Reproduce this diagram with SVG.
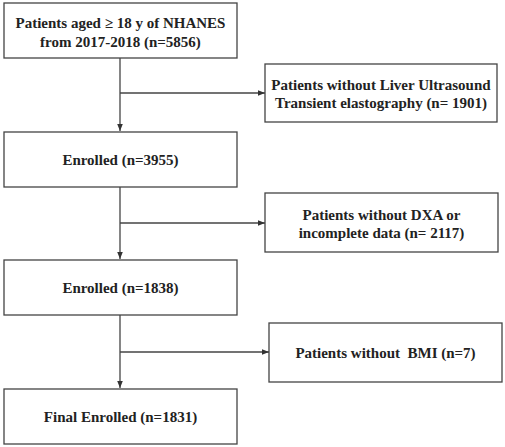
<svg xmlns="http://www.w3.org/2000/svg" width="505" height="447" viewBox="0 0 505 447">
<style>
.box{fill:#fff;stroke:#444;stroke-width:1.3}
.t{font-family:"Liberation Serif","Times New Roman",serif;font-weight:bold;font-size:15px;fill:#222;text-anchor:middle;dominant-baseline:central}
.c{stroke:#444;stroke-width:1.3;fill:none}
</style>
<defs>
<marker id="ah" viewBox="0 0 10 10" refX="10" refY="5" markerWidth="7" markerHeight="7" markerUnits="userSpaceOnUse" orient="auto">
<path d="M0,1 L10,5 L0,9 Z" fill="#333"/>
</marker>
</defs>
<rect width="505" height="447" fill="#fff"/>
<g id="connectors">
<line class="c" x1="120" y1="58" x2="120" y2="131" marker-end="url(#ah)"/>
<line class="c" x1="120" y1="93" x2="265" y2="93" marker-end="url(#ah)"/>
<line class="c" x1="120" y1="187" x2="120" y2="259" marker-end="url(#ah)"/>
<line class="c" x1="120" y1="223" x2="265" y2="223" marker-end="url(#ah)"/>
<line class="c" x1="120" y1="315" x2="120" y2="388" marker-end="url(#ah)"/>
<line class="c" x1="120" y1="352" x2="269" y2="352" marker-end="url(#ah)"/>
</g>
<g id="n1">
<rect class="box" x="4" y="3" width="233" height="55"/>
<text class="t" x="120.5" y="23">Patients aged ≥ 18 y of NHANES</text>
<text class="t" x="120.5" y="42">from 2017-2018 (n=5856)</text>
</g>
<g id="n2">
<rect class="box" x="265" y="64" width="232" height="58"/>
<text class="t" x="381" y="85">Patients without Liver Ultrasound</text>
<text class="t" x="381" y="103">Transient elastography (n= 1901)</text>
</g>
<g id="n3">
<rect class="box" x="4" y="132" width="233" height="55"/>
<text class="t" x="120.5" y="160">Enrolled (n=3955)</text>
</g>
<g id="n4">
<rect class="box" x="265" y="193" width="233" height="59"/>
<text class="t" x="381.5" y="215">Patients without DXA or</text>
<text class="t" x="381.5" y="233">incomplete data (n= 2117)</text>
</g>
<g id="n5">
<rect class="box" x="4" y="260" width="233" height="55"/>
<text class="t" x="120.5" y="288">Enrolled (n=1838)</text>
</g>
<g id="n6">
<rect class="box" x="269" y="323" width="233" height="59"/>
<text class="t" x="385.5" y="353" xml:space="preserve">Patients without  BMI (n=7)</text>
</g>
<g id="n7">
<rect class="box" x="4" y="389" width="233" height="55"/>
<text class="t" x="120.5" y="417">Final Enrolled (n=1831)</text>
</g>
</svg>
